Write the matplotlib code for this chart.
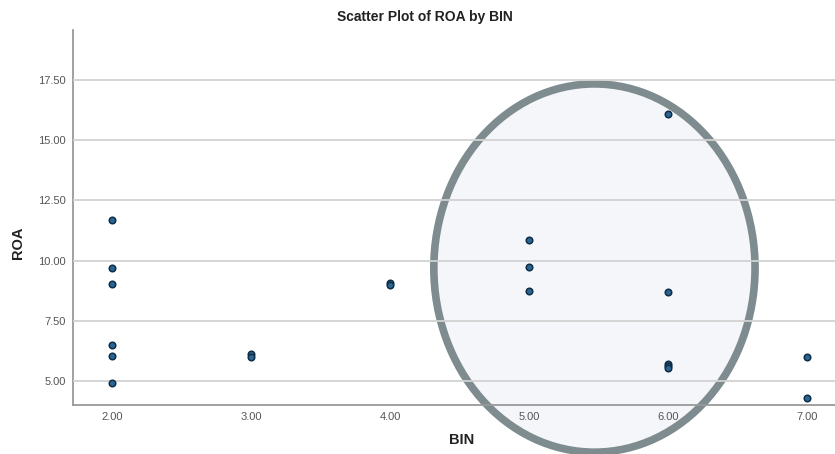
import matplotlib
matplotlib.use("Agg")
import matplotlib.pyplot as plt
from matplotlib.patches import Ellipse

bin_vals = [2, 2, 2, 2, 2, 2, 3, 3, 4, 4, 5, 5, 5, 6, 6, 6, 6, 6, 7, 7]
roa_vals = [11.68, 9.68, 9.02, 6.50, 6.04, 4.92, 6.10, 6.00, 9.05, 9.00,
            10.87, 9.75, 8.75, 16.10, 8.68, 5.70, 5.62, 5.55, 6.00, 4.30]
x_ticks = [2, 3, 4, 5, 6, 7]
y_ticks = [5.0, 7.5, 10.0, 12.5, 15.0, 17.5]

plt.rcParams['font.family'] = ['Liberation Sans', 'DejaVu Sans']

fig = plt.figure(figsize=(8.35, 4.54), dpi=100)
ax = fig.add_axes([73/835, 49/454, 1 - 73/835, (405-30)/454])

ax.set_xlim(1.72, 7.2)
ax.set_ylim(4.0, 19.58)

ell = Ellipse((5.47, 9.69), 2.31, 15.3, facecolor='#f4f6f9', edgecolor='#7f8c8f',
              linewidth=5.5, clip_on=False, zorder=1)
ax.add_patch(ell)

ax.set_yticks(y_ticks)
ax.set_yticklabels([f"{v:.2f}" for v in y_ticks])
ax.set_xticks(x_ticks)
ax.set_xticklabels([f"{v:.2f}" for v in x_ticks])
ax.grid(axis='y', color='#d2d2d2', linewidth=1.3, zorder=2)
ax.set_axisbelow(False)
for l in ax.get_ygridlines():
    l.set_zorder(2)
ax.tick_params(length=0, labelsize=8, colors='#555555', pad=5)

ax.scatter(bin_vals, roa_vals, s=22, facecolor='#2a6593', edgecolor='#0f2d45',
           linewidth=1.1, zorder=3)

for s in ['top', 'right']:
    ax.spines[s].set_visible(False)
for s in ['left', 'bottom']:
    ax.spines[s].set_color('#999999')
    ax.spines[s].set_linewidth(1.3)
    ax.spines[s].set_zorder(2)

fig.text(425/835, 1 - 17/454, "Scatter Plot of ROA by BIN", ha='center', va='center',
         fontsize=10, fontweight='bold', color='#222222')
fig.text(462/835, 1 - 440/454, "BIN", ha='center', va='center',
         fontsize=10.5, fontweight='bold', color='#222222')
fig.text(18/835, 1 - 243/454, "ROA", ha='center', va='center', rotation=90,
         fontsize=10.5, fontweight='bold', color='#222222')

fig.savefig("out.png", dpi=100)
